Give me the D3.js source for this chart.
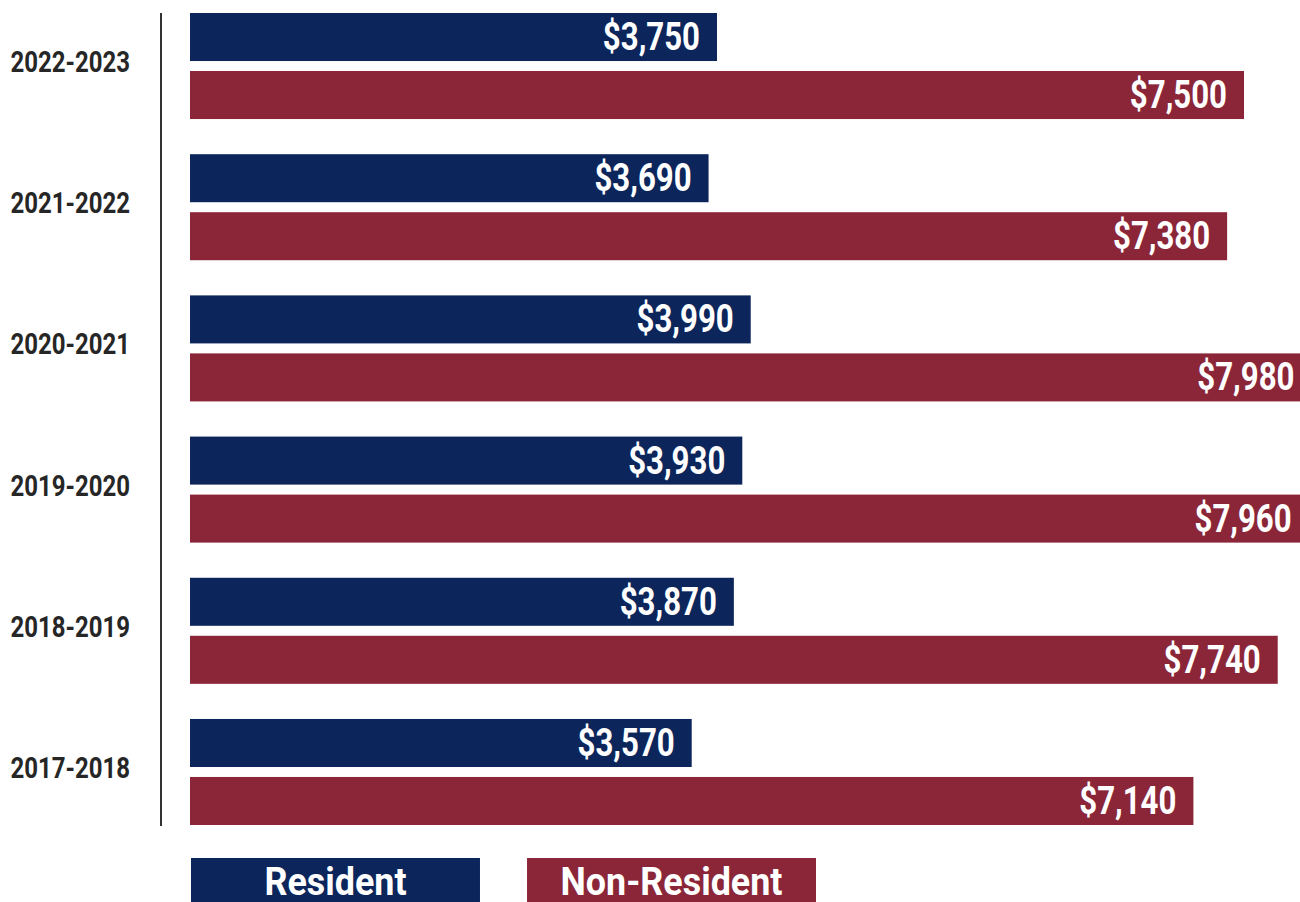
<!DOCTYPE html>
<meta charset="utf-8">
<script src="https://d3js.org/d3.v7.min.js"></script>
<html>
<head>
<style>
body { margin: 0; background: white; }
svg text { font-family: Roboto, "Liberation Sans", sans-serif; font-weight: bold; }
</style>
</head>
<body>
<div id="chart"></div>
<script>

  // data
  var years = ["2022-2023", "2021-2022", "2020-2021", "2019-2020", "2018-2019", "2017-2018"];
  var series = ["Resident", "Non-Resident"];
  var resident = [3750, 3690, 3990, 3930, 3870, 3570];
  var nonResident = [7500, 7380, 7980, 7960, 7740, 7140];
  var colors = ["#0c265c", "#8b2639"];

  var width = 1300, height = 902;
  // no condensed font installed, so squeeze text horizontally
  var squeeze = 0.8;

  var svg = d3.select("#chart")
    .append("svg")
      .attr("width", width)
      .attr("height", height);

  var rows = years.map(function(y, i) {
    return { year: y, values: [resident[i], nonResident[i]] };
  });

  // scales
  var x = d3.scaleLinear()
    .domain([0, 7500])
    .range([190, 1244]);

  var y = d3.scaleBand()
    .domain(years)
    .range([13, 825])
    .paddingInner(0.249)
    .paddingOuter(0);

  var ySub = d3.scaleBand()
    .domain(series)
    .range([0, y.bandwidth()])
    .paddingInner(0.172);

  var fmt = d3.format("$,");

  // vertical axis line
  svg.append("line")
    .attr("x1", 161).attr("x2", 161)
    .attr("y1", y.range()[0]).attr("y2", y.range()[1] + 1)
    .attr("stroke", "#333")
    .attr("stroke-width", 2);

  // year labels
  svg.append("g")
    .selectAll("text")
    .data(years)
    .enter()
    .append("text")
      .attr("transform", function(d) {
        return "translate(130," + (y(d) + y.bandwidth() / 2 + 6) + ") scale(" + squeeze + ",1)";
      })
      .attr("text-anchor", "end")
      .attr("fill", "#262626")
      .style("font-size", "30px")
      .text(function(d) { return d; });

  // bars
  var groups = svg.append("g")
    .selectAll("g")
    .data(rows)
    .enter()
    .append("g")
      .attr("transform", function(d) { return "translate(0," + y(d.year) + ")"; });

  var cells = groups.selectAll("g")
    .data(function(d) { return d.values.map(function(v, j) { return { key: series[j], value: v, idx: j }; }); })
    .enter()
    .append("g");

  cells.append("rect")
    .attr("x", x(0))
    .attr("y", function(d) { return ySub(d.key); })
    .attr("width", function(d) { return x(d.value) - x(0); })
    .attr("height", ySub.bandwidth())
    .attr("fill", function(d) { return colors[d.idx]; });

  cells.append("text")
    .attr("transform", function(d) {
      return "translate(" + (x(d.value) - 17) + "," + (ySub(d.key) + ySub.bandwidth() / 2 + 13) + ") scale(" + squeeze + ",1)";
    })
    .attr("text-anchor", "end")
    .attr("fill", "white")
    .style("font-size", "39px")
    .text(function(d) { return fmt(d.value); });

  // legend
  var legendX = d3.scaleBand()
    .domain(series)
    .range([191, 816])
    .paddingInner(0.14);

  var legend = svg.append("g")
    .selectAll("g")
    .data(series)
    .enter()
    .append("g");

  legend.append("rect")
    .attr("x", function(d) { return legendX(d); })
    .attr("y", 858)
    .attr("width", legendX.bandwidth())
    .attr("height", 50)
    .attr("fill", function(d, i) { return colors[i]; });

  legend.append("text")
    .attr("transform", function(d) {
      return "translate(" + (legendX(d) + legendX.bandwidth() / 2) + ",895) scale(0.92,1)";
    })
    .attr("text-anchor", "middle")
    .attr("fill", "white")
    .style("font-size", "39px")
    .text(function(d) { return d; });

</script>
</body>
</html>
